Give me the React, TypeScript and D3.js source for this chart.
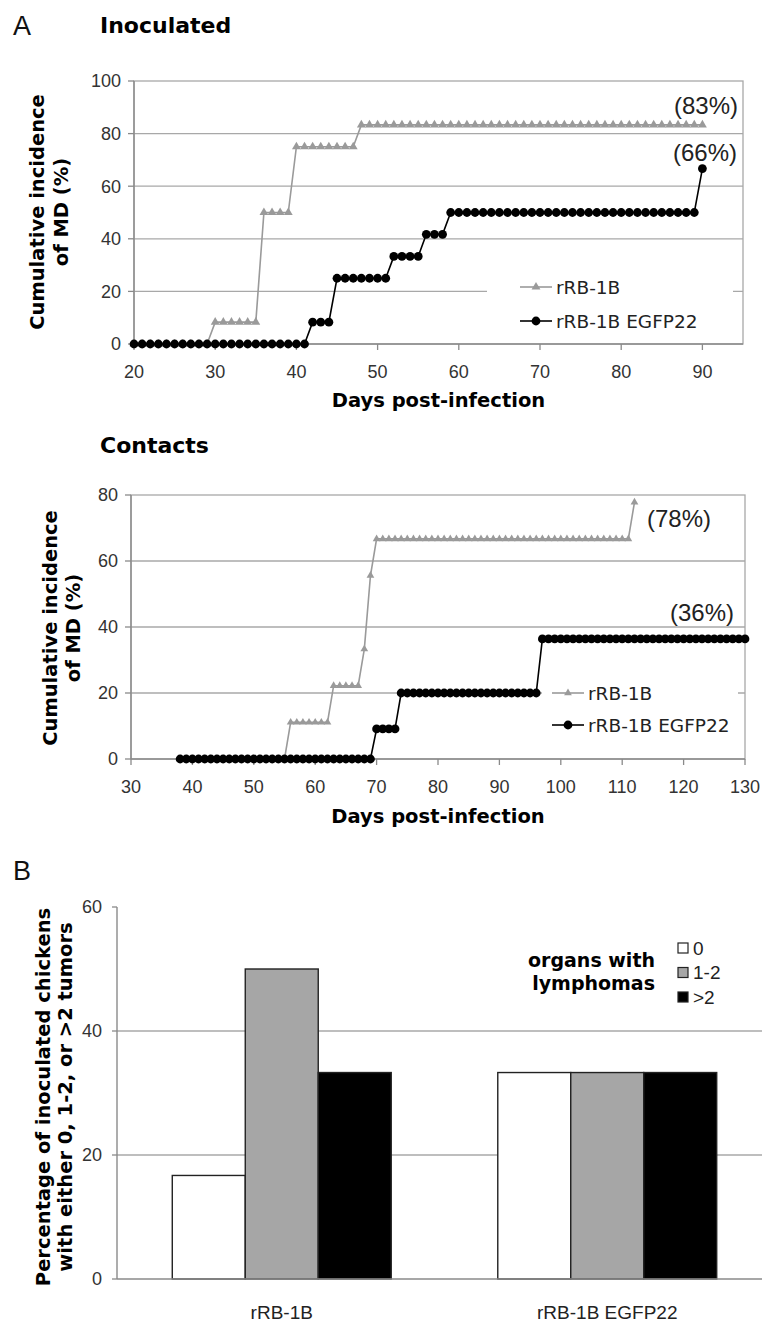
import React from "react";
import * as d3 from "d3";

// ---- data ----
const inocDays = d3.range(20, 91);
const inocRRB1B = [
  0, 0, 0, 0, 0, 0, 0, 0, 0, 0,
  8.3, 8.3, 8.3, 8.3, 8.3, 8.3,
  50, 50, 50, 50,
  75, 75, 75, 75, 75, 75, 75, 75,
  83.3, 83.3, 83.3, 83.3, 83.3, 83.3, 83.3, 83.3, 83.3, 83.3,
  83.3, 83.3, 83.3, 83.3, 83.3, 83.3, 83.3, 83.3, 83.3, 83.3,
  83.3, 83.3, 83.3, 83.3, 83.3, 83.3, 83.3, 83.3, 83.3, 83.3,
  83.3, 83.3, 83.3, 83.3, 83.3, 83.3, 83.3, 83.3, 83.3, 83.3,
  83.3, 83.3, 83.3,
];
const inocEGFP22 = [
  0, 0, 0, 0, 0, 0, 0, 0, 0, 0, 0, 0, 0, 0, 0, 0, 0, 0, 0, 0, 0, 0,
  8.3, 8.3, 8.3,
  25, 25, 25, 25, 25, 25, 25,
  33.3, 33.3, 33.3, 33.3,
  41.7, 41.7, 41.7,
  50, 50, 50, 50, 50, 50, 50, 50, 50, 50,
  50, 50, 50, 50, 50, 50, 50, 50, 50, 50,
  50, 50, 50, 50, 50, 50, 50, 50, 50, 50, 50,
  66.7,
];

const contactRRB1BDays = d3.range(38, 113);
const contactRRB1B = [
  0, 0, 0, 0, 0, 0, 0, 0, 0, 0, 0, 0, 0, 0, 0, 0, 0, 0,
  11.1, 11.1, 11.1, 11.1, 11.1, 11.1, 11.1,
  22.2, 22.2, 22.2, 22.2, 22.2,
  33.3,
  55.6,
  66.7, 66.7, 66.7, 66.7, 66.7, 66.7, 66.7, 66.7, 66.7, 66.7,
  66.7, 66.7, 66.7, 66.7, 66.7, 66.7, 66.7, 66.7, 66.7, 66.7,
  66.7, 66.7, 66.7, 66.7, 66.7, 66.7, 66.7, 66.7, 66.7, 66.7,
  66.7, 66.7, 66.7, 66.7, 66.7, 66.7, 66.7, 66.7, 66.7, 66.7,
  66.7, 66.7,
  77.8,
];
const contactEGFPDays = d3.range(38, 131);
const contactEGFP22 = [
  0, 0, 0, 0, 0, 0, 0, 0, 0, 0, 0, 0, 0, 0, 0, 0,
  0, 0, 0, 0, 0, 0, 0, 0, 0, 0, 0, 0, 0, 0, 0, 0,
  9.1, 9.1, 9.1, 9.1,
  20, 20, 20, 20, 20, 20, 20, 20, 20, 20, 20, 20,
  20, 20, 20, 20, 20, 20, 20, 20, 20, 20, 20,
  36.4, 36.4, 36.4, 36.4, 36.4, 36.4, 36.4, 36.4, 36.4, 36.4,
  36.4, 36.4, 36.4, 36.4, 36.4, 36.4, 36.4, 36.4, 36.4, 36.4,
  36.4, 36.4, 36.4, 36.4, 36.4, 36.4, 36.4, 36.4, 36.4, 36.4,
  36.4, 36.4, 36.4, 36.4,
];

const inocXTicks = [20, 30, 40, 50, 60, 70, 80, 90];
const inocYTicks = [0, 20, 40, 60, 80, 100];
const contactXTicks = [30, 40, 50, 60, 70, 80, 90, 100, 110, 120, 130];
const contactYTicks = [0, 20, 40, 60, 80];

const seriesNames = ["rRB-1B", "rRB-1B EGFP22"];
const groups = ["rRB-1B", "rRB-1B EGFP22"];
const organClasses = ["0", "1-2", ">2"];
const organColors = ["#ffffff", "#a6a6a6", "#000000"];
const tumorPct = [
  [16.7, 50, 33.3],
  [33.3, 33.3, 33.3],
];
const barYTicks = [0, 20, 40, 60];

// ---- styles ----
const TICK_FONT = "'Liberation Sans', Arial, sans-serif";
const BOLD_FONT = "'DejaVu Sans', Verdana, sans-serif";
const GRID = "#a8a8a8";
const AXIS = "#8a8a8a";
const GRAY = "#9a9a9a";

const tri = (size: number) => d3.symbol().type(d3.symbolTriangle).size(size)() as string;

type ChartProps = {
  xDomain: [number, number];
  xRange: [number, number];
  yDomain: [number, number];
  yRange: [number, number];
  xTicks: number[];
  yTicks: number[];
  grayDays: number[];
  grayVals: number[];
  blackDays: number[];
  blackVals: number[];
  triSize: number;
  legend: { x0: number; x1: number; y0: number; y1: number; sym: number; rows: number[] };
  notes: { text: string; x: number; y: number; anchor: string }[];
  yTitleX: [number, number];
  yTitleY: number;
  xTitleY: number;
  xLabelY: number;
};

const IncidenceChart = (p: ChartProps) => {
  const x = d3.scaleLinear().domain(p.xDomain).range(p.xRange);
  const y = d3.scaleLinear().domain(p.yDomain).range(p.yRange);
  const [x0, x1] = p.xRange;
  const yTop = y(p.yDomain[1]);
  const yBot = y(0);
  const line = d3
    .line<[number, number]>()
    .x((d) => x(d[0]))
    .y((d) => y(d[1]));
  const grayPts = p.grayDays.map((d, i) => [d, p.grayVals[i]] as [number, number]);
  const blackPts = p.blackDays.map((d, i) => [d, p.blackVals[i]] as [number, number]);
  const lg = p.legend;

  return (
    <g>
      {p.yTicks
        .filter((t) => t > 0 && t < p.yDomain[1])
        .map((t) => (
          <line key={t} x1={x0} x2={x1} y1={y(t)} y2={y(t)} stroke={GRID} strokeWidth={1.3} />
        ))}
      <rect x={x0} y={yTop} width={x1 - x0} height={yBot - yTop} fill="none" stroke={GRID} strokeWidth={1.3} />
      <rect x={lg.x0} y={lg.y0} width={lg.x1 - lg.x0} height={lg.y1 - lg.y0} fill="#fff" />
      {/* axes */}
      <line x1={x0} x2={x0} y1={yTop} y2={yBot} stroke={AXIS} strokeWidth={1.4} />
      <line x1={x0} x2={x1} y1={yBot} y2={yBot} stroke={AXIS} strokeWidth={1.4} />
      {p.yTicks.map((t) => (
        <g key={t}>
          <line x1={x0 - 6} x2={x0} y1={y(t)} y2={y(t)} stroke={AXIS} strokeWidth={1.3} />
          <text x={x0 - 13} y={y(t)} dy="0.35em" textAnchor="end" fontFamily={TICK_FONT} fontSize={18} fill="#333">
            {t}
          </text>
        </g>
      ))}
      {p.xTicks.map((t) => (
        <g key={t}>
          <line x1={x(t)} x2={x(t)} y1={yBot} y2={yBot + 6} stroke={AXIS} strokeWidth={1.3} />
          <text x={x(t)} y={p.xLabelY} dy="0.35em" textAnchor="middle" fontFamily={TICK_FONT} fontSize={18} fill="#333">
            {t}
          </text>
        </g>
      ))}
      {/* series */}
      <path d={line(grayPts) as string} fill="none" stroke={GRAY} strokeWidth={1.6} />
      {grayPts.map((d, i) => (
        <path key={i} d={tri(p.triSize)} transform={`translate(${x(d[0])},${y(d[1])})`} fill={GRAY} />
      ))}
      <path d={line(blackPts) as string} fill="none" stroke="#000" strokeWidth={1.6} />
      {blackPts.map((d, i) => (
        <circle key={i} cx={x(d[0])} cy={y(d[1])} r={4.4} fill="#000" />
      ))}
      {/* legend */}
      {seriesNames.map((name, i) => {
        const ly = lg.rows[i];
        const mid = (lg.sym + lg.sym + 32) / 2;
        return (
          <g key={name}>
            <line x1={lg.sym} x2={lg.sym + 32} y1={ly} y2={ly} stroke={i === 0 ? GRAY : "#000"} strokeWidth={1.6} />
            {i === 0 ? (
              <path d={tri(p.triSize)} transform={`translate(${mid},${ly})`} fill={GRAY} />
            ) : (
              <circle cx={mid} cy={ly} r={4.4} fill="#000" />
            )}
            <text x={lg.sym + 36} y={ly} dy="0.36em" fontFamily={BOLD_FONT} fontSize={18.5} fill="#222">
              {name}
            </text>
          </g>
        );
      })}
      {p.notes.map((n) => (
        <text key={n.text} x={n.x} y={n.y} dy="0.36em" textAnchor={n.anchor} fontFamily={TICK_FONT} fontSize={24} fill="#222">
          {n.text}
        </text>
      ))}
      {/* titles */}
      <text
        transform={`translate(${p.yTitleX[0]},${p.yTitleY}) rotate(-90)`}
        textAnchor="middle"
        dy="0.36em"
        fontFamily={BOLD_FONT}
        fontWeight="bold"
        fontSize={19.5}
      >
        Cumulative incidence
      </text>
      <text
        transform={`translate(${p.yTitleX[1]},${p.yTitleY}) rotate(-90)`}
        textAnchor="middle"
        dy="0.36em"
        fontFamily={BOLD_FONT}
        fontWeight="bold"
        fontSize={19.5}
      >
        of MD (%)
      </text>
      <text x={(x0 + x1) / 2} y={p.xTitleY} dy="0.36em" textAnchor="middle" fontFamily={BOLD_FONT} fontWeight="bold" fontSize={19.5}>
        Days post-infection
      </text>
    </g>
  );
};

const TumorBars = () => {
  const left = 117;
  const right = 762;
  const x0 = d3.scaleBand().domain(groups).range([119, 770]);
  const x1 = d3.scaleBand().domain(organClasses).range([0, x0.bandwidth()]).paddingOuter(0.73);
  const y = d3.scaleLinear().domain([0, 60]).range([1279, 907]);

  return (
    <g>
      {barYTicks
        .filter((t) => t > 0 && t < 60)
        .map((t) => (
          <line key={t} x1={left} x2={right} y1={y(t)} y2={y(t)} stroke={GRID} strokeWidth={1.3} />
        ))}
      {groups.map((g, gi) =>
        organClasses.map((c, ci) => {
          const v = tumorPct[gi][ci];
          return (
            <rect
              key={g + c}
              x={(x0(g) as number) + (x1(c) as number)}
              y={y(v)}
              width={x1.bandwidth()}
              height={y(0) - y(v)}
              fill={organColors[ci]}
              stroke="#222"
              strokeWidth={1.4}
            />
          );
        })
      )}
      <line x1={left} x2={left} y1={y(60)} y2={y(0)} stroke={AXIS} strokeWidth={1.4} />
      <line x1={left} x2={right} y1={y(0)} y2={y(0)} stroke={AXIS} strokeWidth={1.4} />
      {barYTicks.map((t) => (
        <g key={t}>
          <line x1={left - 5} x2={left} y1={y(t)} y2={y(t)} stroke={AXIS} strokeWidth={1.3} />
          <text x={left - 15} y={y(t)} dy="0.35em" textAnchor="end" fontFamily={TICK_FONT} fontSize={18} fill="#333">
            {t}
          </text>
        </g>
      ))}
      {groups.map((g) => (
        <text
          key={g}
          x={(x0(g) as number) + x0.bandwidth() / 2}
          y={1312}
          dy="0.36em"
          textAnchor="middle"
          fontFamily={TICK_FONT}
          fontSize={19}
          fill="#222"
        >
          {g}
        </text>
      ))}
      {/* legend */}
      <text x={655} y={960} dy="0.36em" textAnchor="end" fontFamily={BOLD_FONT} fontWeight="bold" fontSize={19}>
        organs with
      </text>
      <text x={655} y={983} dy="0.36em" textAnchor="end" fontFamily={BOLD_FONT} fontWeight="bold" fontSize={19}>
        lymphomas
      </text>
      {organClasses.map((c, i) => {
        const ly = 948 + i * 24.5;
        return (
          <g key={c}>
            <rect x={678} y={ly - 5} width={10} height={10} fill={organColors[i]} stroke="#222" strokeWidth={1.2} />
            <text x={693} y={ly} dy="0.36em" fontFamily={TICK_FONT} fontSize={19} fill="#222">
              {c}
            </text>
          </g>
        );
      })}
      <text
        transform={`translate(43,1097) rotate(-90)`}
        textAnchor="middle"
        dy="0.36em"
        fontFamily={BOLD_FONT}
        fontWeight="bold"
        fontSize={19.5}
      >
        Percentage of inoculated chickens
      </text>
      <text
        transform={`translate(65,1097) rotate(-90)`}
        textAnchor="middle"
        dy="0.36em"
        fontFamily={BOLD_FONT}
        fontWeight="bold"
        fontSize={19.5}
      >
        with either 0, 1-2, or &gt;2 tumors
      </text>
    </g>
  );
};

export default function App() {
  return (
    <svg
      width={762}
      height={1322}
      style={{ position: "absolute", left: 0, top: 0, background: "#fff" }}
    >
      <text x={13} y={25} dy="0.36em" fontFamily={TICK_FONT} fontSize={27} fill="#111">
        A
      </text>
      <text x={100} y={25} dy="0.36em" fontFamily={BOLD_FONT} fontWeight="bold" fontSize={22}>
        Inoculated
      </text>
      <IncidenceChart
        xDomain={[20, 95]}
        xRange={[134, 743]}
        yDomain={[0, 100]}
        yRange={[344, 81]}
        xTicks={inocXTicks}
        yTicks={inocYTicks}
        grayDays={inocDays}
        grayVals={inocRRB1B}
        blackDays={inocDays}
        blackVals={inocEGFP22}
        triSize={34}
        legend={{ x0: 487, x1: 733, y0: 272, y1: 337, sym: 520, rows: [287, 321] }}
        notes={[
          { text: "(83%)", x: 738, y: 105, anchor: "end" },
          { text: "(66%)", x: 737, y: 152, anchor: "end" },
        ]}
        yTitleX={[37, 61]}
        yTitleY={212}
        xTitleY={400}
        xLabelY={372}
      />
      <text x={100} y={445} dy="0.36em" fontFamily={BOLD_FONT} fontWeight="bold" fontSize={22}>
        Contacts
      </text>
      <IncidenceChart
        xDomain={[30, 130]}
        xRange={[131, 745]}
        yDomain={[0, 80]}
        yRange={[759, 495]}
        xTicks={contactXTicks}
        yTicks={contactYTicks}
        grayDays={contactRRB1BDays}
        grayVals={contactRRB1B}
        blackDays={contactEGFPDays}
        blackVals={contactEGFP22}
        triSize={26}
        legend={{ x0: 542, x1: 738, y0: 678, y1: 742, sym: 552, rows: [693, 725] }}
        notes={[
          { text: "(78%)", x: 647, y: 518, anchor: "start" },
          { text: "(36%)", x: 734, y: 612, anchor: "end" },
        ]}
        yTitleX={[50, 73]}
        yTitleY={628}
        xTitleY={816}
        xLabelY={787}
      />
      <text x={13} y={870} dy="0.36em" fontFamily={TICK_FONT} fontSize={27} fill="#111">
        B
      </text>
      <TumorBars />
    </svg>
  );
}
